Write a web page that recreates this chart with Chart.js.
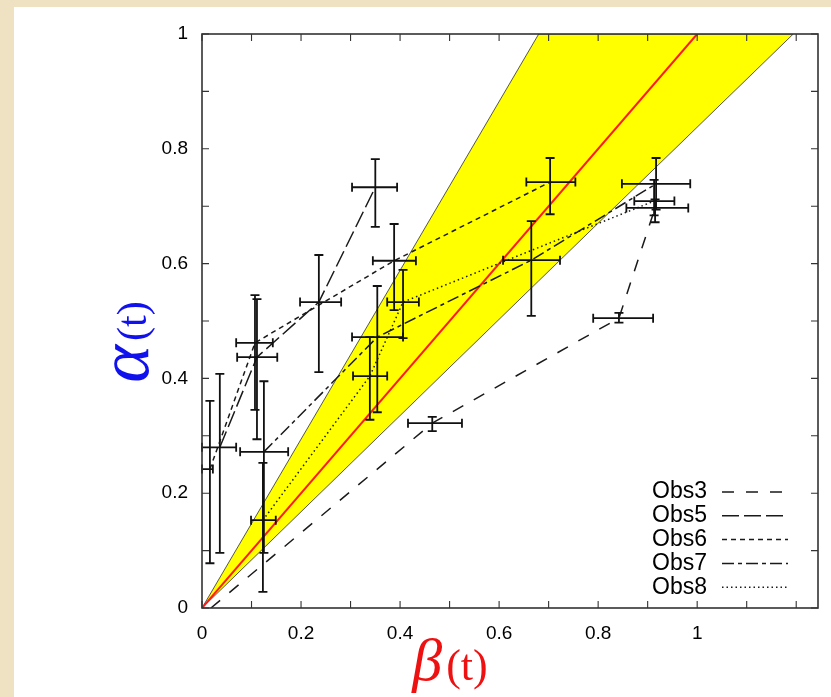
<!DOCTYPE html>
<html lang="en">
<head>
    <meta charset="UTF-8">
    <title>alpha(t) vs beta(t)</title>
    <script src="https://cdn.jsdelivr.net/npm/chart.js"></script>
    <style>
        body {
            margin: 0;
            padding: 0;
            width: 831px;
            height: 697px;
            overflow: hidden;
            background-color: #efe2c3;
        }
        .panel {
            position: absolute;
            left: 14px;
            top: 7px;
            width: 817px;
            height: 690px;
            background: white;
        }
    </style>
</head>
<body>
    <div class="panel"><canvas id="chart"></canvas></div>

    <script>
        // yellow band edges and red reference line
        const bandX = [0, 0.68, 1.194];
        const bandUpper = [0, 1, 1];
        const bandLower = [0, 0.57, 1];
        const refX = [0, 1];
        const refY = [0, 1];

        // tick positions and labels
        const xTicks = [0, 0.1, 0.2, 0.3, 0.4, 0.5, 0.6, 0.7, 0.8, 0.9, 1, 1.1, 1.2];
        const xTickLabels = ["0", "", "0.2", "", "0.4", "", "0.6", "", "0.8", "", "1", "", ""];
        const yTicks = [0, 0.1, 0.2, 0.3, 0.4, 0.5, 0.6, 0.7, 0.8, 0.9, 1];
        const yTickLabels = ["0", "", "0.2", "", "0.4", "", "0.6", "", "0.8", "", "1"];

        // observations (centre, then error bar limits)
        const obs3X = [0.018, 0.465, 0.842, 0.915];
        const obs3Y = [0.0, 0.322, 0.505, 0.697];
        const obs3XLo = [null, 0.416, 0.79, 0.857];
        const obs3XHi = [null, 0.525, 0.911, 0.982];
        const obs3YLo = [null, 0.308, 0.497, 0.672];
        const obs3YHi = [null, 0.333, 0.514, 0.712];

        const obs5X = [0.036, 0.111, 0.236, 0.35];
        const obs5Y = [0.28, 0.437, 0.533, 0.733];
        const obs5XLo = [0.0, 0.071, 0.198, 0.303];
        const obs5XHi = [0.069, 0.152, 0.281, 0.394];
        const obs5YLo = [0.096, 0.294, 0.411, 0.664];
        const obs5YHi = [0.408, 0.538, 0.615, 0.782];

        const obs6X = [0.016, 0.107, 0.388, 0.703];
        const obs6Y = [0.242, 0.462, 0.605, 0.742];
        const obs6XLo = [0.0, 0.069, 0.345, 0.655];
        const obs6XHi = [0.022, 0.143, 0.432, 0.754];
        const obs6YLo = [0.078, 0.345, 0.519, 0.686];
        const obs6YHi = [0.361, 0.545, 0.669, 0.784];

        const obs7X = [0.125, 0.354, 0.665, 0.917];
        const obs7Y = [0.272, 0.472, 0.606, 0.739];
        const obs7XLo = [0.077, 0.303, 0.608, 0.848];
        const obs7XHi = [0.174, 0.406, 0.723, 0.986];
        const obs7YLo = [0.096, 0.341, 0.509, 0.694];
        const obs7YHi = [0.395, 0.561, 0.674, 0.784];

        const obs8X = [0.123, 0.339, 0.406, 0.913];
        const obs8Y = [0.153, 0.404, 0.533, 0.709];
        const obs8XLo = [0.099, 0.305, 0.374, 0.873];
        const obs8XHi = [0.149, 0.374, 0.438, 0.954];
        const obs8YLo = [0.028, 0.328, 0.47, 0.684];
        const obs8YHi = [0.253, 0.472, 0.589, 0.746];

        function pts(xs, ys) {
            return xs.map((v, i) => ({ x: v, y: ys[i] }));
        }

        function obsSet(label, xs, ys, xLo, xHi, yLo, yHi, dash) {
            return {
                label: label,
                data: pts(xs, ys),
                err: { xLo: xLo, xHi: xHi, yLo: yLo, yHi: yHi },
                borderColor: "#1a1a1a",
                borderWidth: 1.5,
                borderDash: dash,
                pointRadius: 0,
                fill: false,
                tension: 0,
                order: 1
            };
        }

        // error bars with caps, drawn over the lines
        const errorBars = {
            id: "errorBars",
            afterDatasetsDraw(chart) {
                const { ctx, scales: { x, y } } = chart;
                const cap = 4.5;
                ctx.save();
                ctx.strokeStyle = "#111";
                ctx.lineWidth = 1.8;
                ctx.setLineDash([]);
                chart.data.datasets.forEach(ds => {
                    if (!ds.err) return;
                    ds.data.forEach((p, i) => {
                        const e = ds.err;
                        const py = y.getPixelForValue(p.y);
                        const px = x.getPixelForValue(p.x);
                        if (e.xLo[i] != null) {
                            const x0 = x.getPixelForValue(e.xLo[i]);
                            const x1 = x.getPixelForValue(e.xHi[i]);
                            ctx.beginPath();
                            ctx.moveTo(x0, py); ctx.lineTo(x1, py);
                            ctx.moveTo(x0, py - cap); ctx.lineTo(x0, py + cap);
                            ctx.moveTo(x1, py - cap); ctx.lineTo(x1, py + cap);
                            ctx.stroke();
                        }
                        if (e.yLo[i] != null) {
                            const y0 = y.getPixelForValue(e.yLo[i]);
                            const y1 = y.getPixelForValue(e.yHi[i]);
                            ctx.beginPath();
                            ctx.moveTo(px, y0); ctx.lineTo(px, y1);
                            ctx.moveTo(px - cap, y0); ctx.lineTo(px + cap, y0);
                            ctx.moveTo(px - cap, y1); ctx.lineTo(px + cap, y1);
                            ctx.stroke();
                        }
                    });
                });
                ctx.restore();
            }
        };

        // frame with inward ticks on all four sides, legend, axis titles
        const frameAndText = {
            id: "frameAndText",
            afterDraw(chart) {
                const { ctx, chartArea: a, scales: { x, y } } = chart;
                const t = 7;
                ctx.save();
                ctx.strokeStyle = "#333";
                ctx.lineWidth = 1.6;
                ctx.setLineDash([]);
                ctx.strokeRect(a.left, a.top, a.right - a.left, a.bottom - a.top);
                ctx.lineWidth = 1.1;
                ctx.beginPath();
                xTicks.forEach(v => {
                    const px = x.getPixelForValue(v);
                    ctx.moveTo(px, a.bottom); ctx.lineTo(px, a.bottom - t);
                    ctx.moveTo(px, a.top); ctx.lineTo(px, a.top + t);
                });
                yTicks.forEach(v => {
                    const py = y.getPixelForValue(v);
                    ctx.moveTo(a.left, py); ctx.lineTo(a.left + t, py);
                    ctx.moveTo(a.right, py); ctx.lineTo(a.right - t, py);
                });
                ctx.stroke();

                // legend
                ctx.font = "23px 'Liberation Sans', Arial, sans-serif";
                ctx.fillStyle = "#000";
                ctx.textAlign = "right";
                ctx.textBaseline = "middle";
                let row = 0;
                chart.data.datasets.forEach(ds => {
                    if (!ds.err) return;
                    const ly = 485 + row * 23.8;
                    ctx.fillText(ds.label, 693, ly);
                    ctx.strokeStyle = ds.borderColor;
                    ctx.lineWidth = ds.borderWidth;
                    ctx.setLineDash(ds.borderDash);
                    ctx.beginPath();
                    ctx.moveTo(708, ly); ctx.lineTo(774, ly);
                    ctx.stroke();
                    row++;
                });
                ctx.setLineDash([]);

                // y title: alpha (t), rotated
                ctx.textAlign = "left";
                ctx.textBaseline = "alphabetic";
                ctx.save();
                ctx.translate(134, 335);
                ctx.rotate(-Math.PI / 2);
                ctx.fillStyle = "#1111ee";
                ctx.font = "italic 72px 'Liberation Serif', serif";
                const aW = ctx.measureText("α").width;
                ctx.font = "42px 'Liberation Serif', serif";
                const tW = ctx.measureText("(t)").width;
                const start = -(aW + 4 + tW) / 2;
                ctx.font = "italic 72px 'Liberation Serif', serif";
                ctx.fillText("α", start, 0);
                ctx.font = "42px 'Liberation Serif', serif";
                ctx.fillText("(t)", start + aW + 4, -2);
                ctx.restore();

                // x title: beta (t)
                ctx.fillStyle = "#ee1111";
                ctx.font = "italic 60px 'Liberation Serif', serif";
                const bW = ctx.measureText("β").width;
                ctx.font = "44px 'Liberation Serif', serif";
                const t2W = ctx.measureText("(t)").width;
                const bx = 436 - (bW + 4 + t2W) / 2;
                ctx.font = "italic 60px 'Liberation Serif', serif";
                ctx.fillText("β", bx, 673);
                ctx.font = "44px 'Liberation Serif', serif";
                ctx.fillText("(t)", bx + bW + 4, 673);
                ctx.restore();
            }
        };

        const tickFont = { family: "'Liberation Sans', Arial, sans-serif", size: 19 };

        new Chart(document.getElementById("chart"), {
            type: "line",
            data: {
                datasets: [
                    {
                        label: "band upper",
                        data: pts(bandX, bandUpper),
                        borderColor: "#444",
                        borderWidth: 0.9,
                        backgroundColor: "#ffff00",
                        fill: "+1",
                        pointRadius: 0,
                        order: 3
                    },
                    {
                        label: "band lower",
                        data: pts(bandX, bandLower),
                        borderColor: "#444",
                        borderWidth: 0.9,
                        fill: false,
                        pointRadius: 0,
                        order: 3
                    },
                    {
                        label: "reference",
                        data: pts(refX, refY),
                        borderColor: "#ff1a1a",
                        borderWidth: 2,
                        fill: false,
                        pointRadius: 0,
                        order: 2
                    },
                    obsSet("Obs3", obs3X, obs3Y, obs3XLo, obs3XHi, obs3YLo, obs3YHi, [12, 12]),
                    obsSet("Obs5", obs5X, obs5Y, obs5XLo, obs5XHi, obs5YLo, obs5YHi, [17, 5]),
                    obsSet("Obs6", obs6X, obs6Y, obs6XLo, obs6XHi, obs6YLo, obs6YHi, [5, 4]),
                    obsSet("Obs7", obs7X, obs7Y, obs7XLo, obs7XHi, obs7YLo, obs7YHi, [12, 4, 4, 4]),
                    obsSet("Obs8", obs8X, obs8Y, obs8XLo, obs8XHi, obs8YLo, obs8YHi, [1.5, 3])
                ]
            },
            options: {
                responsive: true,
                maintainAspectRatio: false,
                animation: false,
                layout: { padding: { left: 0, right: 13, top: 27, bottom: 0 } },
                plugins: {
                    legend: { display: false },
                    tooltip: { enabled: false },
                    filler: { drawTime: "beforeDatasetsDraw" }
                },
                scales: {
                    x: {
                        type: "linear",
                        min: 0,
                        max: 1.244,
                        afterBuildTicks: s => { s.ticks = xTicks.map(v => ({ value: v })); },
                        afterFit: s => { s.height = 89; },
                        grid: { drawOnChartArea: false, drawTicks: false },
                        border: { display: false },
                        ticks: {
                            autoSkip: false,
                            maxRotation: 0,
                            padding: 14,
                            color: "#000",
                            font: tickFont,
                            callback: (v, i) => xTickLabels[i]
                        }
                    },
                    y: {
                        type: "linear",
                        min: 0,
                        max: 1,
                        afterBuildTicks: s => { s.ticks = yTicks.map(v => ({ value: v })); },
                        afterFit: s => { s.width = 188; },
                        grid: { drawOnChartArea: false, drawTicks: false },
                        border: { display: false },
                        ticks: {
                            autoSkip: false,
                            padding: 14,
                            color: "#000",
                            font: tickFont,
                            callback: (v, i) => yTickLabels[i]
                        }
                    }
                }
            },
            plugins: [errorBars, frameAndText]
        });
    </script>
</body>
</html>
